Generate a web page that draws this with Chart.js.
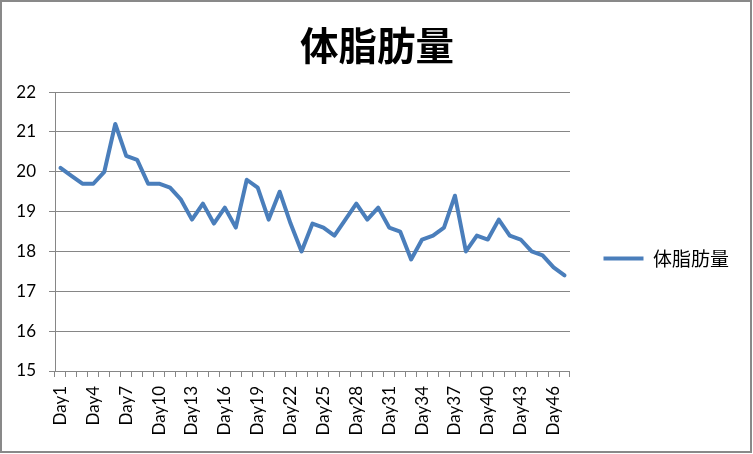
<!DOCTYPE html>
<html>
<head>
<meta charset="utf-8">
<script src="https://cdn.jsdelivr.net/npm/chart.js@4/dist/chart.umd.min.js"></script>
<style>
  html, body { margin: 0; padding: 0; background: #ffffff; }
  #wrap { width: 753px; height: 454px; position: relative; }
</style>
</head>
<body>
<div id="wrap"><canvas id="c" width="753" height="454"></canvas></div>
<script>
const chartTitle = '体脂肪量';
const seriesName = '体脂肪量';
const categories = ['Day1','Day2','Day3','Day4','Day5','Day6','Day7','Day8','Day9','Day10',
  'Day11','Day12','Day13','Day14','Day15','Day16','Day17','Day18','Day19','Day20',
  'Day21','Day22','Day23','Day24','Day25','Day26','Day27','Day28','Day29','Day30',
  'Day31','Day32','Day33','Day34','Day35','Day36','Day37','Day38','Day39','Day40',
  'Day41','Day42','Day43','Day44','Day45','Day46','Day47'];
const bodyFat = [20.1, 19.9, 19.7, 19.7, 20.0, 21.2, 20.4, 20.3, 19.7, 19.7,
  19.6, 19.3, 18.8, 19.2, 18.7, 19.1, 18.6, 19.8, 19.6, 18.8,
  19.5, 18.7, 18.0, 18.7, 18.6, 18.4, 18.8, 19.2, 18.8, 19.1,
  18.6, 18.5, 17.8, 18.3, 18.4, 18.6, 19.4, 18.0, 18.4, 18.3,
  18.8, 18.4, 18.3, 18.0, 17.9, 17.6, 17.4];
const yTicks = [15, 16, 17, 18, 19, 20, 21, 22];
const labelEvery = 3;

const lineColor = '#4A7EBB';
const gridColor = '#868686';
const latin = 'Lato, "Liberation Sans", sans-serif';
const cjk = '"Noto Sans CJK JP", "Noto Sans CJK SC", sans-serif';

const borderPlugin = {
  id: 'outerBorder',
  beforeDraw(chart) {
    const ctx = chart.ctx;
    ctx.save();
    ctx.fillStyle = '#ffffff';
    ctx.fillRect(0, 0, chart.width, chart.height);
    ctx.restore();
  },
  afterDraw(chart) {
    const ctx = chart.ctx;
    ctx.save();
    ctx.strokeStyle = '#898989';
    ctx.lineWidth = 2;
    ctx.strokeRect(1, 1, chart.width - 3, chart.height - 3);
    ctx.restore();
  }
};

new Chart(document.getElementById('c'), {
  type: 'line',
  data: {
    labels: categories,
    datasets: [{
      label: seriesName,
      data: bodyFat,
      borderColor: lineColor,
      backgroundColor: lineColor,
      borderWidth: 4,
      pointRadius: 0,
      pointHoverRadius: 0,
      tension: 0,
      fill: false,
      borderCapStyle: 'round',
      borderJoinStyle: 'round'
    }]
  },
  options: {
    responsive: false,
    devicePixelRatio: 1,
    animation: false,
    layout: { padding: { left: 15, right: 14, top: 0, bottom: 0 } },
    plugins: {
      tooltip: { enabled: false },
      title: {
        display: true,
        text: chartTitle,
        color: '#000000',
        font: { family: cjk, size: 38.5, weight: 'bold', lineHeight: 1.2 },
        padding: { top: 22, bottom: 23.9 }
      },
      legend: {
        display: true,
        position: 'right',
        align: 'center',
        title: { display: true, text: '', font: { size: 12, lineHeight: 1.2 }, padding: { top: 48.6, bottom: 0 } },
        labels: {
          color: '#000000',
          font: { family: cjk, size: 19 },
          usePointStyle: true,
          pointStyle: 'line',
          pointStyleWidth: 40,
          boxHeight: 19,
          padding: 33.5
        }
      }
    },
    scales: {
      x: {
        type: 'category',
        offset: true,
        afterFit: (s) => { s.height = 83; },
        grid: { offset: true, drawOnChartArea: false, drawTicks: true, tickLength: 6, color: gridColor, lineWidth: 1 },
        border: { display: true, color: gridColor, width: 1 },
        ticks: {
          autoSkip: false,
          minRotation: 90,
          maxRotation: 90,
          padding: 9,
          color: '#000000',
          font: { family: latin, size: 17 },
          callback: (v, i) => (i % labelEvery === 0 ? categories[i] : '')
        }
      },
      y: {
        min: yTicks[0],
        max: yTicks[yTicks.length - 1],
        afterFit: (s) => { s.width = 40; },
        afterBuildTicks: (s) => { s.ticks = yTicks.map(v => ({ value: v })); },
        grid: { color: gridColor, lineWidth: 1, tickLength: 6, drawTicks: true },
        border: { display: true, color: gridColor, width: 1 },
        ticks: {
          padding: 13,
          color: '#000000',
          font: { family: latin, size: 17 }
        }
      }
    }
  },
  plugins: [borderPlugin]
});
</script>
</body>
</html>
